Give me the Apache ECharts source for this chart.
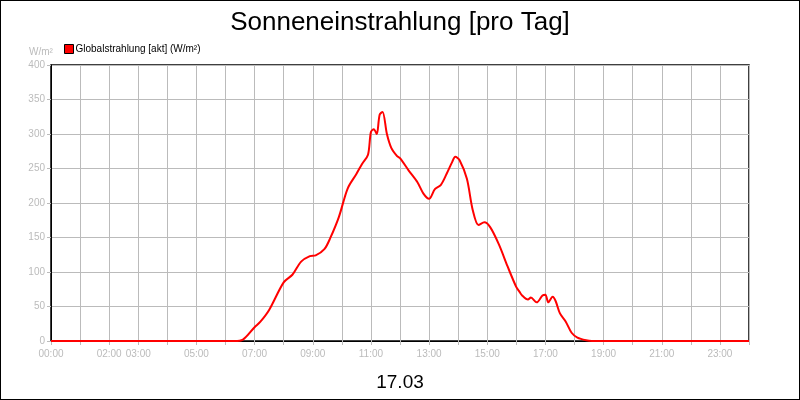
<!DOCTYPE html>
<html><head><meta charset="utf-8">
<script src="https://cdn.jsdelivr.net/npm/echarts@6/dist/echarts.min.js"></script>
<style>html,body{margin:0;padding:0}#c{width:800px;height:400px;box-sizing:border-box;border:1px solid #000}</style>
</head><body><div id="c"></div>
<script>
const hours=[0,6.3,6.6,7.0,7.2,7.5,8.0,8.3,8.6,8.9,9.1,9.4,9.6,9.9,10.2,10.5,10.7,10.9,11.0,11.1,11.2,11.3,11.4,11.55,11.7,11.9,12.0,12.3,12.6,12.8,13.0,13.2,13.4,13.6,13.8,13.9,14.05,14.3,14.5,14.7,14.9,15.1,15.4,15.7,16.0,16.1,16.2,16.4,16.5,16.7,16.9,17.0,17.1,17.25,17.35,17.5,17.7,17.9,18.1,18.4,18.6,24];
const values=[0,0,2,20,28,45,85,96,115,123,124,133,149,180,221,242,257,270,303,307,300,328,332,300,280,268,265,247,230,214,206,220,226,242,260,267,262,235,190,168,172,165,140,108,78,72,66,60,63,56,66,67,56,64,58,40,28,12,5,1,0,0];
const tickLabels=['00:00','','02:00','03:00','','05:00','','07:00','','09:00','','11:00','','13:00','','15:00','','17:00','','19:00','','21:00','','23:00',''];
const chart=echarts.init(document.getElementById('c'));
const grey='#bbb';
chart.setOption({
 animation:false,
 title:[{text:'Sonneneinstrahlung [pro Tag]',left:'center',top:4,textStyle:{fontFamily:'Liberation Sans',fontSize:26,fontWeight:'normal',color:'#000'}},
  {text:'17.03',left:'center',top:367,textStyle:{fontFamily:'Liberation Sans',fontSize:19,fontWeight:'normal',color:'#000'}},
  {text:'W/m²',left:23,top:41,textStyle:{fontFamily:'Liberation Sans',fontSize:10,fontWeight:'normal',color:'#bbb'}}],
 legend:{left:58,top:38,itemWidth:9,itemHeight:9,icon:'rect',itemGap:4,textStyle:{fontFamily:'Liberation Sans',fontSize:10,color:'#000',padding:[0,0,0,-3]},data:[{name:'Globalstrahlung [akt] (W/m²)',itemStyle:{color:'#f00',borderColor:'#000',borderWidth:1}}]},
 grid:{left:50,right:50,top:64,bottom:58,show:true,borderColor:'#000',borderWidth:1.5},
 xAxis:{type:'value',min:0,max:24,interval:1,
  axisLine:{lineStyle:{color:'#000'}},axisTick:{show:true,length:4,lineStyle:{color:grey}},
  axisLabel:{fontFamily:'Liberation Sans',fontSize:10,color:grey,formatter:v=>tickLabels[Math.round(v)]||'',showMaxLabel:true},
  splitLine:{show:true,lineStyle:{color:grey}}},
 yAxis:{type:'value',min:0,max:400,interval:50,
  axisLine:{show:true,lineStyle:{color:'#000'}},axisTick:{show:true,length:4,lineStyle:{color:grey}},
  axisLabel:{fontFamily:'Liberation Sans',fontSize:10,color:grey,margin:6},
  splitLine:{show:true,lineStyle:{color:grey}}},
 series:[{name:'Globalstrahlung [akt] (W/m²)',type:'line',smooth:0.3,showSymbol:false,
  lineStyle:{color:'#f00',width:2},itemStyle:{color:'#f00'},
  data:hours.map((h,i)=>[h,values[i]])}]
});
</script></body></html>
